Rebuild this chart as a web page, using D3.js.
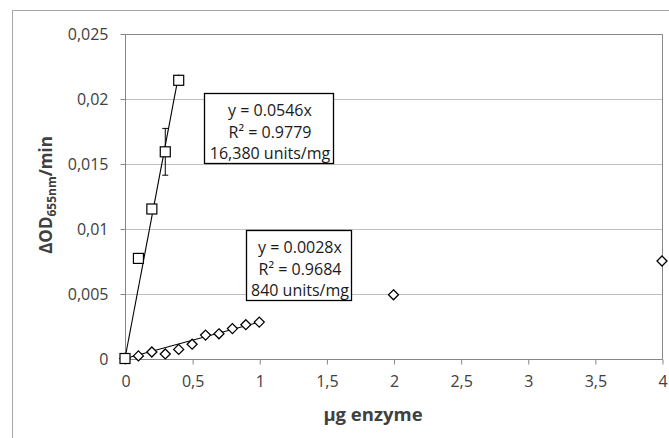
<html>
<script src="https://d3js.org/d3.v7.min.js"></script>
<body style="margin:0;background:#fff">
<svg id="chart" width="669" height="438"></svg>
<script>
// series A (squares) - high activity enzyme
const doseA = [0, 0.1, 0.2, 0.3, 0.4];
const rateA = [0, 0.0077, 0.0115, 0.0159, 0.0214];
const errA  = [0, 0, 0, 0.0018, 0.0003];
const slopeA = 0.0546;
const labelA = ["y = 0.0546x", "R² = 0.9779", "16,380 units/mg"];

// series B (diamonds)
const doseB = [0, 0.1, 0.2, 0.3, 0.4, 0.5, 0.6, 0.7, 0.8, 0.9, 1, 2, 4];
const rateB = [0, 0.0002, 0.0005, 0.00035, 0.0007, 0.0011, 0.0018, 0.0019, 0.0023, 0.0026, 0.0028, 0.0049, 0.0075];
const slopeB = 0.0028;
const labelB = ["y = 0.0028x", "R² = 0.9684", "840 units/mg"];

const xTicks = [0, 0.5, 1, 1.5, 2, 2.5, 3, 3.5, 4];
const yTicks = [0, 0.005, 0.01, 0.015, 0.02, 0.025];

const font = "'Open Sans', sans-serif";
const svg = d3.select('#chart');

// outer chart frame
svg.append('rect').attr('x', 12.5).attr('y', 10.5).attr('width', 700).attr('height', 460)
    .attr('fill', 'none').attr('stroke', '#a6a6a6');

let x = d3.scaleLinear().domain([0, 4]).range([125, 662]);
let y = d3.scaleLinear().domain([0, 0.025]).range([358.5, 33.5]);
const fmt = d => String(d).replace('.', ',');

// gridlines
svg.selectAll('.grid').data(yTicks.slice(1, -1)).enter().append('line')
    .attr('x1', x(0)).attr('x2', x(4))
    .attr('y1', d => Math.round(y(d)) + 0.5).attr('y2', d => Math.round(y(d)) + 0.5)
    .attr('stroke', '#c0c0c0');

// plot border top/right
svg.append('path')
    .attr('d', `M${x(0)},${Math.round(y(0.025)) + 0.5}H${Math.round(x(4)) + 0.5}V${Math.round(y(0)) + 0.5}`)
    .attr('fill', 'none').attr('stroke', '#868686');

let xAxis = d3.axisBottom(x).tickValues(xTicks).tickFormat(fmt).tickSize(5).tickPadding(11);
let yAxis = d3.axisLeft(y).tickValues(yTicks).tickFormat(fmt).tickSize(5).tickPadding(12);

let gx = svg.append('g').attr('transform', `translate(0.5,${Math.round(y(0)) + 0.5})`).call(xAxis);
let gy = svg.append('g').attr('transform', `translate(${Math.round(x(0)) + 0.5},0.5)`).call(yAxis);
[gx, gy].forEach(g => {
    g.selectAll('path,line').attr('stroke', '#868686');
    g.selectAll('path').attr('d', g === gx ? `M${x(0)-0.5},0H${x(4)}` : `M0,${y(0.025)}V${y(0)}`);
    g.selectAll('text').attr('font-family', font).attr('font-size', 16).attr('fill', '#404040');
});

// fit lines
svg.append('line').attr('x1', x(0)).attr('y1', y(0)).attr('x2', x(0.4)).attr('y2', y(slopeA * 0.4))
    .attr('stroke', '#000').attr('stroke-width', 1.1);
svg.append('line').attr('x1', x(0)).attr('y1', y(0)).attr('x2', x(1)).attr('y2', y(slopeB * 1))
    .attr('stroke', '#000').attr('stroke-width', 1.1);

// error bars on series A
doseA.forEach((d, i) => {
    if (!errA[i]) return;
    let cx = x(d);
    let g = svg.append('g').attr('stroke', '#000');
    g.append('line').attr('x1', cx).attr('x2', cx).attr('y1', y(rateA[i] - errA[i])).attr('y2', y(rateA[i] + errA[i]));
    [rateA[i] - errA[i], rateA[i] + errA[i]].forEach(v =>
        g.append('line').attr('x1', cx - 3).attr('x2', cx + 3).attr('y1', y(v)).attr('y2', y(v)));
});

// diamonds
svg.selectAll('.dia').data(doseB).enter().append('path')
    .attr('class', 'dia')
    .attr('d', (d, i) => {
        let cx = x(d), cy = y(rateB[i]), r = 5;
        return `M${cx},${cy - r}L${cx + r},${cy}L${cx},${cy + r}L${cx - r},${cy}Z`;
    })
    .attr('fill', '#fff').attr('stroke', '#000').attr('stroke-width', 1.3);

// squares
svg.selectAll('.sq').data(doseA).enter().append('rect')
    .attr('class', 'sq')
    .attr('x', d => x(d) - 5).attr('y', (d, i) => y(rateA[i]) - 5)
    .attr('width', 10).attr('height', 10)
    .attr('fill', '#fff').attr('stroke', '#000').attr('stroke-width', 1.2);

// equation boxes
function eqBox(x0, y0, w, h, lines) {
    svg.append('rect').attr('x', x0).attr('y', y0).attr('width', w).attr('height', h)
        .attr('fill', '#fff').attr('stroke', '#000').attr('stroke-width', 1.3);
    lines.forEach((t, i) => svg.append('text')
        .attr('x', x0 + w / 2 + 1).attr('y', y0 + 22.5 + i * 21.5)
        .attr('text-anchor', 'middle').attr('font-family', font).attr('font-size', 16)
        .attr('fill', '#1a1a1a').text(t));
}
eqBox(204.5, 93.5, 129, 70, labelA);
eqBox(246.5, 230.5, 105, 70, labelB);

// axis titles
svg.append('text').attr('x', 373).attr('y', 421).attr('text-anchor', 'middle')
    .attr('font-family', font).attr('font-size', 18.5).attr('font-weight', 'bold').attr('fill', '#404040')
    .text('µg enzyme');
let yt = svg.append('text').attr('transform', 'translate(52,195) rotate(-90)').attr('text-anchor', 'middle')
    .attr('font-family', font).attr('font-size', 17).attr('font-weight', 'bold').attr('fill', '#404040');
yt.append('tspan').text('ΔOD');
yt.append('tspan').attr('font-size', 12).attr('dy', 4).text('655nm');
yt.append('tspan').attr('dy', -4).text('/min');
</script>
</body>
</html>
